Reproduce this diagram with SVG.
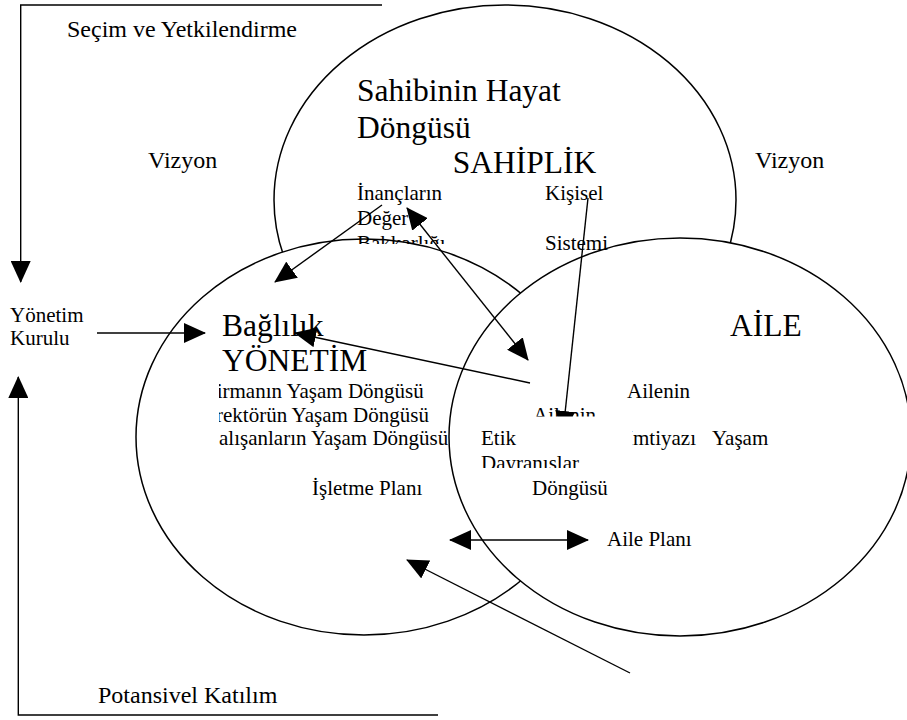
<svg xmlns="http://www.w3.org/2000/svg" width="907" height="720" viewBox="0 0 907 720">
<style>
.el{fill:#fff;stroke:#000;stroke-width:1.5}
text{font-family:"Liberation Serif","Times New Roman",serif;fill:#000}
.s{font-size:21px}
.m{font-size:24px}
.l{font-size:31.5px}
.c{fill:none;stroke:#000;stroke-width:1.4}
</style>
<defs>
<marker id="ah" viewBox="0 0 22 20" refX="21" refY="10" markerWidth="22" markerHeight="20" markerUnits="userSpaceOnUse" orient="auto-start-reverse"><path d="M0,0 L22,10 L0,20 z" fill="#000"/></marker>
<clipPath id="clipBek"><rect x="350" y="225" width="110" height="19"/></clipPath>
<clipPath id="clipLeft"><rect x="219" y="375" width="300" height="85"/></clipPath>
<clipPath id="clipDav"><rect x="470" y="450" width="170" height="18"/></clipPath>
</defs>

<g id="sahiplik-circle"><ellipse class="el" cx="505" cy="200" rx="231" ry="195"/></g>

<g id="yonetim">
<ellipse class="el" cx="364" cy="437" rx="228" ry="198"/>
<text class="l" x="222" y="336">Bağlılık</text>
<text class="l" x="222" y="371">YÖNETİM</text>
<g clip-path="url(#clipLeft)">
<text class="s" x="205" y="398">Firmanın Yaşam Döngüsü</text>
<text class="s" x="195" y="421.5">Direktörün Yaşam Döngüsü</text>
<text class="s" x="205" y="445">Çalışanların Yaşam Döngüsü</text>
</g>
<text class="s" x="312" y="495">İşletme Planı</text>
</g>

<g id="aile-circle"><ellipse class="el" cx="680" cy="437" rx="231" ry="199"/></g>

<g id="sahiplik">
<text class="l" x="357" y="101">Sahibinin Hayat</text>
<text class="l" x="357" y="138">Döngüsü</text>
<text class="l" x="452.7" y="173">SAHİPLİK</text>
<text class="s" x="357" y="200">İnançların</text>
<text class="s" x="357" y="225">Değer</text>
<text class="s" x="357" y="249.5" clip-path="url(#clipBek)">Bakkarlığı</text>
<text class="s" x="545" y="200">Kişisel</text>
<text class="s" x="545" y="250">Sistemi</text>
</g>

<g id="aile">
<text class="l" x="730" y="336">AİLE</text>
<text class="s" x="627" y="398">Ailenin</text>
<text class="s" x="533" y="421.5">Ailenin</text>
<text class="s" x="626" y="445">İmtiyazı</text>
<text class="s" x="712" y="445">Yaşam</text>
<text class="s" x="532" y="495">Döngüsü</text>
<text class="s" x="607" y="546">Aile Planı</text>
</g>

<g id="outer-labels">
<text class="m" x="67" y="36.5">Seçim ve Yetkilendirme</text>
<text class="m" x="148" y="168">Vizyon</text>
<text class="m" x="755" y="168">Vizyon</text>
<text class="s" x="10" y="322">Yönetim</text>
<text class="s" x="10" y="345">Kurulu</text>
<text class="m" x="98" y="703">Potansivel Katılım</text>
</g>

<g id="connectors">
<path class="c" d="M382,5 H20.7 V282" marker-end="url(#ah)"/>
<path class="c" d="M438,715 H18.3 V377" marker-end="url(#ah)"/>
<path class="c" d="M97,333 H205" marker-end="url(#ah)"/>
<path class="c" d="M382,205 L275,282" marker-end="url(#ah)"/>
<path class="c" d="M407,208 L528,360" marker-start="url(#ah)" marker-end="url(#ah)"/>
<path class="c" d="M530,383 L295,333" marker-end="url(#ah)"/>
<path class="c" d="M588,198 L563,432" marker-end="url(#ah)"/>
<path class="c" d="M450,540 H588" marker-start="url(#ah)" marker-end="url(#ah)"/>
<path class="c" d="M630,673 L407,560" marker-end="url(#ah)"/>
</g>

<g id="etik">
<rect x="476" y="416.5" width="156" height="51.5" fill="#fff"/>
<text class="s" x="481" y="445">Etik</text>
<text class="s" x="481" y="469.5" clip-path="url(#clipDav)">Dayranışlar</text>
</g>
</svg>
